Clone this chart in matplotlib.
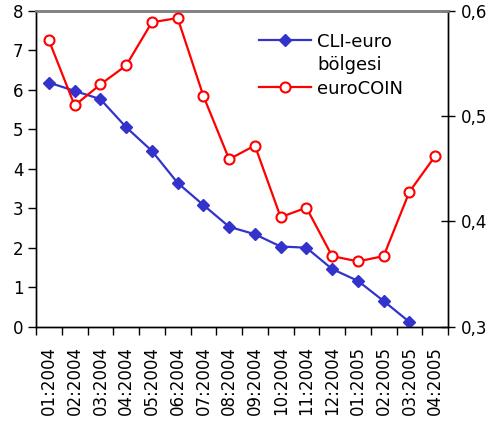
import matplotlib
matplotlib.use("Agg")
import matplotlib.pyplot as plt
from matplotlib.lines import Line2D
import numpy as np

plt.rcParams['font.family'] = ['DejaVu Sans']

months = ["01:2004", "02:2004", "03:2004", "04:2004", "05:2004", "06:2004",
          "07:2004", "08:2004", "09:2004", "10:2004", "11:2004", "12:2004",
          "01:2005", "02:2005", "03:2005", "04:2005"]
cli_euro = [6.18, 5.97, 5.76, 5.05, 4.45, 3.64, 3.08, 2.53, 2.34, 2.03, 2.00,
            1.46, 1.16, 0.65, 0.12, np.nan]
eurocoin = [0.572, 0.510, 0.530, 0.548, 0.589, 0.593, 0.519, 0.459, 0.472,
            0.404, 0.413, 0.367, 0.362, 0.367, 0.428, 0.462]
left_ticks = [0, 1, 2, 3, 4, 5, 6, 7, 8]
right_ticks = [0.3, 0.4, 0.5, 0.6]
right_labels = ["0,3", "0,4", "0,5", "0,6"]

blue = "#3333CC"
red = "#FF0000"

fig = plt.figure(figsize=(4.92, 4.28), dpi=100)
ax = fig.add_axes([0.0732, 0.2367, 0.8374, 0.7383])
ax2 = ax.twinx()

x = np.arange(len(months))
ax.plot(x, cli_euro, color=blue, lw=1.6, marker="D", ms=6.5,
        mfc=blue, mec=blue, zorder=3)
ax2.plot(x, eurocoin, color=red, lw=1.6, marker="o", ms=7.2,
         mfc="white", mec=red, mew=1.5, zorder=3)

ax.set_xlim(-0.5, len(months) - 0.5)
ax.set_ylim(0, 8)
ax2.set_ylim(0.3, 0.6)

ax.set_yticks(left_ticks)
ax.set_yticklabels([str(v) for v in left_ticks])
ax2.set_yticks(right_ticks)
ax2.set_yticklabels(right_labels)

ax.set_xticks(x)
ax.set_xticklabels(months, rotation=90, va="top", ha="center")
ax.set_xticks(np.arange(len(months) + 1) - 0.5, minor=True)
ax.tick_params(axis="x", which="major", length=0, pad=14, labelsize=12)
ax.tick_params(axis="x", which="minor", length=6, width=1, direction="out")
ax.tick_params(axis="y", length=6, width=1, direction="out", labelsize=12, pad=3)
ax2.tick_params(axis="y", length=10, width=1, direction="inout", labelsize=12, pad=4)

for a in (ax, ax2):
    a.spines["top"].set_color("#808080")
    a.spines["top"].set_linewidth(1.8)
    for s in ("left", "right", "bottom"):
        a.spines[s].set_color("black")
        a.spines[s].set_linewidth(1.0)

handles = [
    Line2D([], [], color=blue, lw=1.6, marker="D", ms=6.5, mfc=blue, mec=blue),
    Line2D([], [], color="none"),
    Line2D([], [], color=red, lw=1.6, marker="o", ms=7.2, mfc="white", mec=red, mew=1.5),
]
labels = ["CLI-euro", "bölgesi", "euroCOIN"]
leg = ax2.legend(handles, labels, loc="upper left", bbox_to_anchor=(0.51, 0.97),
                 frameon=False, fontsize=13, handlelength=2.9, handletextpad=0.35,
                 labelspacing=0.3, borderpad=0.2)

fig.savefig("out.png", dpi=100)
